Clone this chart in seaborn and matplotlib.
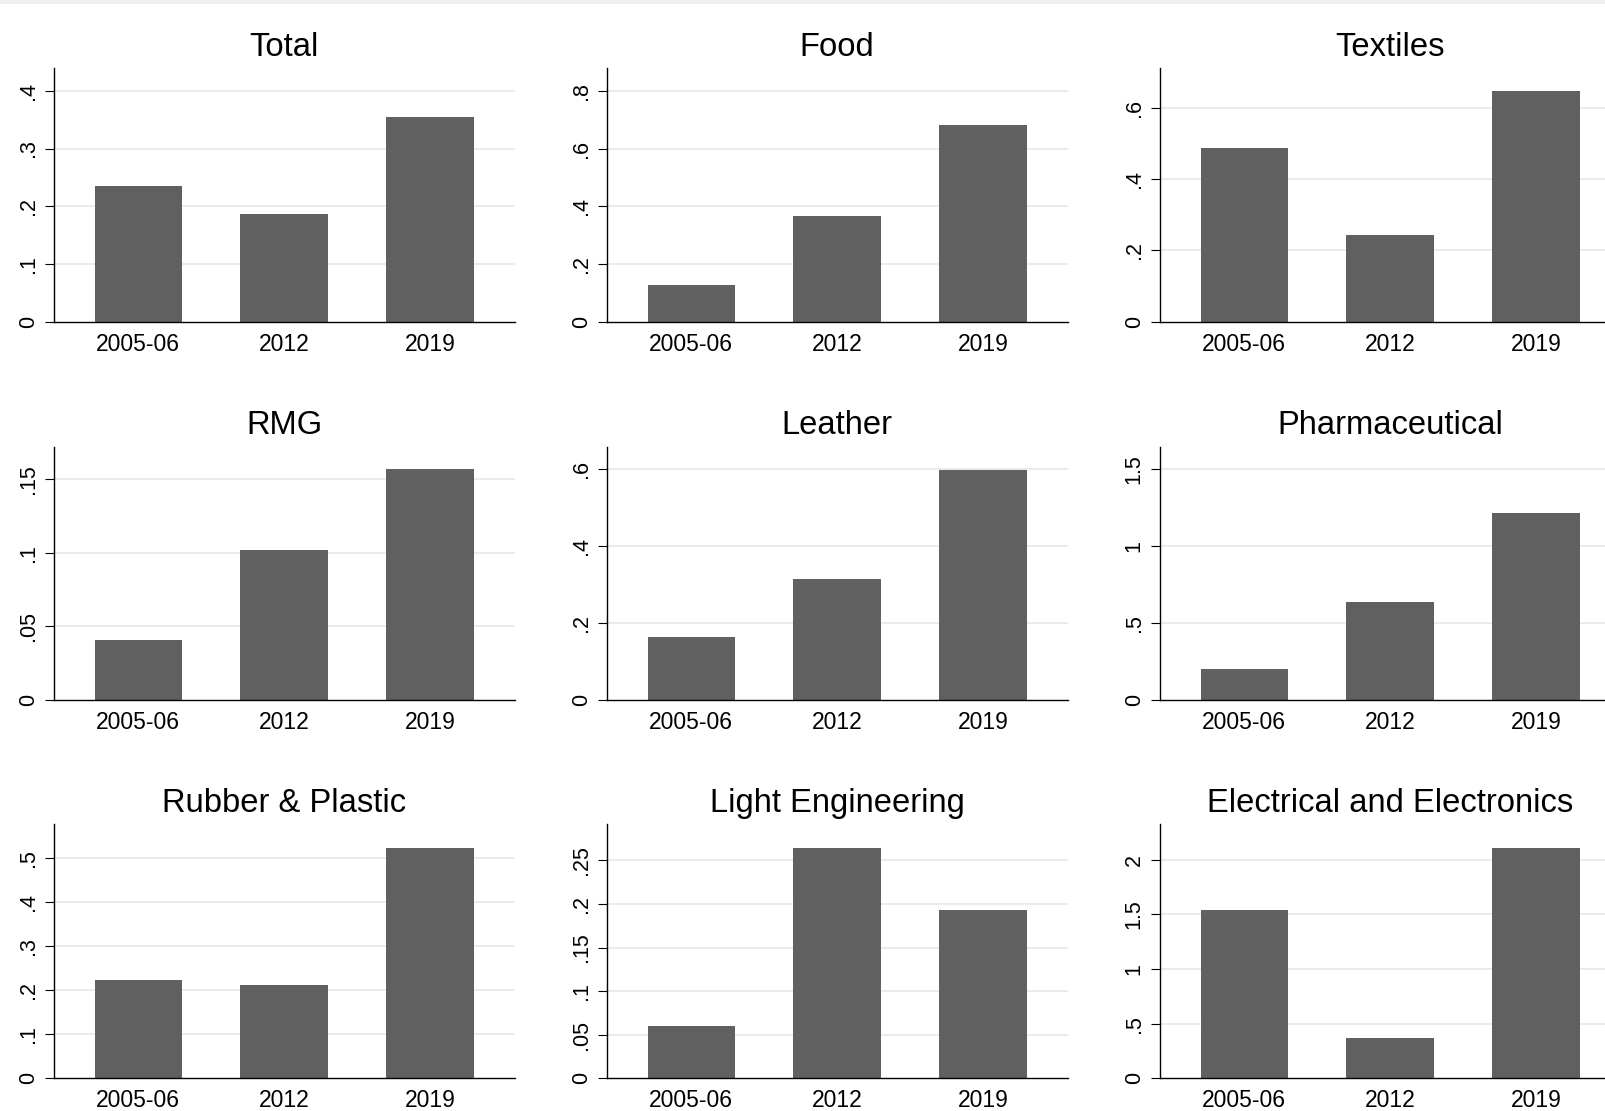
import matplotlib
matplotlib.use("Agg")
import matplotlib.pyplot as plt
from matplotlib.patches import Rectangle
import seaborn as sns
import pandas as pd

# Survey rounds shown on every panel
years = ["2005-06", "2012", "2019"]

# Sector values by round
total = [0.235, 0.187, 0.355]
food = [0.127, 0.366, 0.681]
textiles = [0.487, 0.243, 0.647]
rmg = [0.041, 0.102, 0.157]
leather = [0.165, 0.315, 0.598]
pharmaceutical = [0.201, 0.637, 1.216]
rubber_plastic = [0.223, 0.212, 0.523]
light_engineering = [0.060, 0.2645, 0.193]
electrical = [1.54, 0.371, 2.11]

titles = ["Total", "Food", "Textiles",
          "RMG", "Leather", "Pharmaceutical",
          "Rubber & Plastic", "Light Engineering", "Electrical and Electronics"]
series = [total, food, textiles,
          rmg, leather, pharmaceutical,
          rubber_plastic, light_engineering, electrical]

# y-axis ticks and upper limits per panel
yticks = [[0, .1, .2, .3, .4], [0, .2, .4, .6, .8], [0, .2, .4, .6],
          [0, .05, .1, .15], [0, .2, .4, .6], [0, .5, 1, 1.5],
          [0, .1, .2, .3, .4, .5], [0, .05, .1, .15, .2, .25], [0, .5, 1, 1.5, 2]]
ytops = [0.439, 0.878, 0.71,
         0.172, 0.659, 1.647,
         0.576, 0.2913, 2.324]

sns.set_style("white")
plt.rcParams["font.family"] = ["Liberation Sans", "DejaVu Sans"]

W, H = 1606, 1111
fig = plt.figure(figsize=(W / 100, H / 100), dpi=100)
fig.patch.set_facecolor("white")
fig.patches.append(Rectangle((0, 1 - 4 / H), 1, 4 / H, transform=fig.transFigure,
                             facecolor="#efefef", edgecolor="none", zorder=0))

# panel geometry in pixels
col_left = [53.7, 606.7, 1159.7]
col_width = 461
row_top = [68.3, 446.7, 824.3]
row_bottom = [321.7, 700, 1078.3]


def stata_label(v):
    s = f"{v:g}"
    if s.startswith("0."):
        s = s[1:]
    return s


for i, (title, vals) in enumerate(zip(titles, series)):
    r, c = divmod(i, 3)
    left = col_left[c] / W
    bottom = 1 - row_bottom[r] / H
    height = (row_bottom[r] - row_top[r]) / H
    ax = fig.add_axes([left, bottom, col_width / W, height])
    df = pd.DataFrame({"year": years, "value": vals})
    sns.barplot(data=df, x="year", y="value", color="#606060", saturation=1,
                width=0.6, ax=ax, edgecolor="none", linewidth=0, zorder=3)
    ax.set_xlim(-0.58, 2.58)
    ax.set_ylim(0, ytops[i])
    ticks = yticks[i]
    ax.set_yticks(ticks)
    ax.set_yticklabels([stata_label(t) for t in ticks], rotation=90, va="center")
    for t in ticks[1:]:
        ax.axhline(t, color="#e8e8e8", linewidth=1.2, zorder=1)
    ax.set_xlabel("")
    ax.set_ylabel("")
    ax.set_title(title, fontsize=23.6, pad=9, color="black")
    for side in ["top", "right"]:
        ax.spines[side].set_visible(False)
    for side in ["left", "bottom"]:
        ax.spines[side].set_color("black")
        ax.spines[side].set_linewidth(1.0)
        ax.spines[side].set_zorder(4)
    ax.tick_params(axis="y", length=6.8, width=0.8, color="black", pad=4,
                   labelsize=15.5, labelcolor="black", left=True)
    ax.tick_params(axis="x", length=0, pad=8, labelsize=16.5, labelcolor="black")
    ax.grid(False)

fig.savefig("out.png", dpi=100)
